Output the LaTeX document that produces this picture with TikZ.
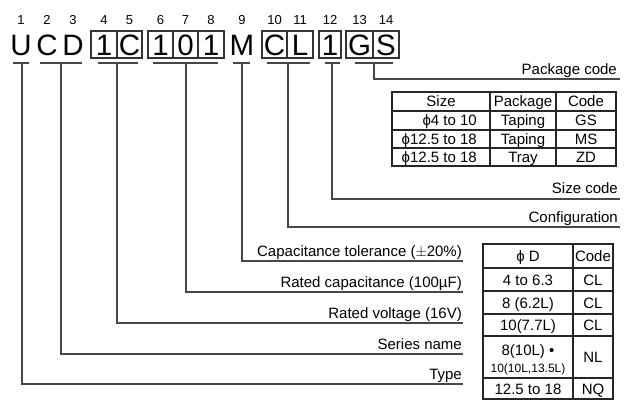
\documentclass[tikz,border=0pt]{standalone}
\usepackage{fontspec}
\setmainfont{Liberation Sans}
\begin{document}
\begin{tikzpicture}[x=1pt,y=-1pt,
  ln/.style={draw=black!72, line width=1.2pt},
  tb/.style={draw=black!85, line width=1.1pt},
  cell/.style={font=\fontsize{29.5}{31}\selectfont, inner sep=0pt, text height=21.1pt, text depth=0pt, minimum height=27pt},
  boxed/.style={cell, draw=black!80, line width=1.1pt},
  num/.style={font=\fontsize{13}{15}\selectfont, inner sep=0pt, anchor=base},
  lbl/.style={font=\fontsize{15}{18}\selectfont, inner sep=0pt, anchor=base east},
  tx/.style={font=\fontsize{15}{17}\selectfont, inner sep=0pt, anchor=base},
  sm/.style={font=\fontsize{12}{13}\selectfont, inner sep=0pt, anchor=base},
]
\useasboundingbox (0,0) rectangle (632,400);

% code letters
\node[cell] (L1) at (21,44.5) {U};
\node[cell] (L2) at (47,44.5) {C};
\node[cell] (L3) at (73,44.5) {D};
\node[boxed, minimum width=26pt] (L4) at (104,44.5) {1};
\node[boxed, minimum width=25pt] (L5) at (129.5,44.5) {C};
\node[boxed, minimum width=25pt] (L6) at (160.5,44.5) {1};
\node[boxed, minimum width=25pt] (L7) at (185.5,44.5) {0};
\node[boxed, minimum width=26pt] (L8) at (211,44.5) {1};
\node[cell] (L9) at (242,44.5) {M};
\node[boxed, minimum width=25pt] (L10) at (274.5,44.5) {C};
\node[boxed, minimum width=26pt] (L11) at (300,44.5) {L};
\node[boxed, minimum width=22pt] (L12) at (330,44.5) {1};
\node[boxed, minimum width=27pt] (L13) at (359.5,44.5) {G};
\node[boxed, minimum width=26pt] (L14) at (386,44.5) {S};

% position numbers
\node[num] (N1) at (21,24) {1};
\node[num] (N2) at (47,24) {2};
\node[num] (N3) at (73,24) {3};
\node[num] (N4) at (104,24) {4};
\node[num] (N5) at (129.5,24) {5};
\node[num] (N6) at (160.5,24) {6};
\node[num] (N7) at (185.5,24) {7};
\node[num] (N8) at (211,24) {8};
\node[num] (N9) at (242,24) {9};
\node[num] (N10) at (274.5,24) {10};
\node[num] (N11) at (300,24) {11};
\node[num] (N12) at (330,24) {12};
\node[num] (N13) at (359.5,24) {13};
\node[num] (N14) at (386,24) {14};

% underlines
\draw[ln] (13,63) -- (29,63);
\draw[ln] (40,63) -- (82,63);
\draw[ln] (98,63) -- (138,63);
\draw[ln] (153,63) -- (218,63);
\draw[ln] (233,63) -- (250,63);
\draw[ln] (267,63) -- (310,63);
\draw[ln] (325,63) -- (340,63);
\draw[ln] (355,63) -- (393,63);

% anchor points of leaders
\coordinate (uT) at (22,63);
\coordinate (uS) at (61,63);
\coordinate (uV) at (117,63);
\coordinate (uC) at (186,63);
\coordinate (uM) at (242,63);
\coordinate (uF) at (288,63);
\coordinate (uZ) at (332,63);
\coordinate (uP) at (374,63);
\coordinate (eT) at (463,384);
\coordinate (eS) at (463,354);
\coordinate (eV) at (463,323);
\coordinate (eC) at (463,292);
\coordinate (eM) at (463,261);
\coordinate (eF) at (620,227);
\coordinate (eZ) at (620,199);
\coordinate (eP) at (620,79);

\draw[ln] (uT) |- (eT);
\draw[ln] (uS) |- (eS);
\draw[ln] (uV) |- (eV);
\draw[ln] (uC) |- (eC);
\draw[ln] (uM) |- (eM);
\draw[ln] (uF) |- (eF);
\draw[ln] (uZ) |- (eZ);
\draw[ln] (uP) |- (eP);

% labels
\node[lbl] (tP) at (617,74) {Package code};
\node[lbl] (tZ) at (618,193) {Size code};
\node[lbl] (tF) at (618,222) {Configuration};
\node[lbl] (tM) at (462,256) {Capacitance tolerance ($\pm$20\%)};
\node[lbl] (tC) at (462,287) {Rated capacitance (100µF)};
\node[lbl] (tV) at (462,318) {Rated voltage (16V)};
\node[lbl] (tS) at (462,349) {Series name};
\node[lbl] (tT) at (462,379) {Type};

% package table
\draw[tb] (392,92) rectangle (616,166);
\draw[tb] (490,92) -- (490,166) (556,92) -- (556,166);
\draw[tb] (392,111) -- (616,111) (392,130) -- (616,130) (392,148) -- (616,148);
\node[tx] (ph1) at (441,106.5) {Size};
\node[tx] (ph2) at (523,106.5) {Package};
\node[tx] (ph3) at (586,106.5) {Code};
\node[tx, anchor=base east] (pa1) at (477,125.5) {ϕ4 to 10};
\node[tx] (pa2) at (523,125.5) {Taping};
\node[tx] (pa3) at (586,125.5) {GS};
\node[tx, anchor=base east] (pb1) at (477,144) {ϕ12.5 to 18};
\node[tx] (pb2) at (523,144) {Taping};
\node[tx] (pb3) at (586,144) {MS};
\node[tx, anchor=base east] (pc1) at (477,162) {ϕ12.5 to 18};
\node[tx] (pc2) at (523,162) {Tray};
\node[tx] (pc3) at (586,162) {ZD};

% configuration table
\draw[tb] (483,244) rectangle (613,399);
\draw[tb] (573,244) -- (573,399);
\draw[tb] (483,268) -- (613,268) (483,291) -- (613,291) (483,314) -- (613,314) (483,336) -- (613,336) (483,378) -- (613,378);
\node[tx] (ch1) at (528,261) {ϕ D};
\node[tx] (ch2) at (593,261) {Code};
\node[tx] (ca1) at (528,285) {4 to 6.3};
\node[tx] (ca2) at (593,285) {CL};
\node[tx] (cb1) at (528,308) {8 (6.2L)};
\node[tx] (cb2) at (593,308) {CL};
\node[tx] (cc1) at (528,330.5) {10(7.7L)};
\node[tx] (cc2) at (593,330.5) {CL};
\node[tx] (cd1) at (528,355) {8(10L) •};
\node[sm] (cd1b) at (528,372) {10(10L,13.5L)};
\node[tx] (cd2) at (593,362.5) {NL};
\node[tx] (ce1) at (528,394) {12.5 to 18};
\node[tx] (ce2) at (593,394) {NQ};
\end{tikzpicture}
\end{document}
